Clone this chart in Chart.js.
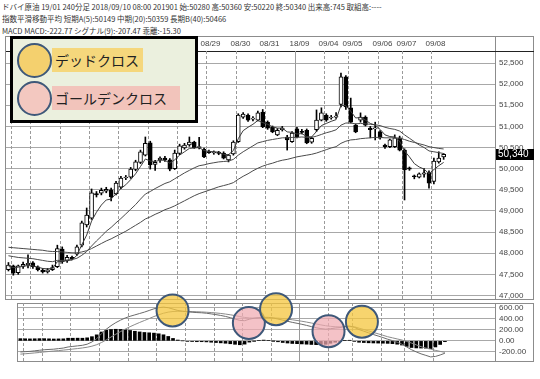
<!DOCTYPE html>
<html lang="ja">
<head>
<meta charset="UTF-8" />
<title>ドバイ原油 240分足</title>
<script src="https://cdn.jsdelivr.net/npm/chart.js"></script>
<style>
  body { margin: 0; width: 540px; height: 379px; background: #fff; position: relative; overflow: hidden; font-family: "Noto Sans CJK JP", sans-serif; }
  .hdr { position: absolute; left: 2px; font-size: 7.5px; line-height: 11px; color: #333; white-space: nowrap; }
  canvas { position: absolute; left: 0; }
  #legend { position: absolute; left: 10px; top: 36px; width: 182px; height: 81px; border: 3px solid #000; background: #ebf0de; z-index: 5; }
  .tag { position: absolute; left: 39px; height: 24px; font-size: 14px; line-height: 24px; color: #222; padding-left: 3px; box-sizing: border-box; white-space: nowrap; }
  .sign { position: absolute; left: 4px; width: 31px; height: 31px; border: 2px solid #3e5879; border-radius: 50%; }
</style>
</head>
<body>
<div class="hdr" style="top:1px">ドバイ原油 19/01 240分足 2018/09/10 08:00 201901 始:50280 高:50360 安:50220 終:50340 出来高:745 取組高:----</div>
<div class="hdr" style="top:13px">指数平滑移動平均 短期A(5):50149 中期(20):50359 長期B(40):50466</div>
<div class="hdr" style="top:25px">MACD MACD:-222.77 シグナル(9):-207.47 乖離:-15.30</div>

<canvas id="main" width="540" height="264" style="top:36px"></canvas>
<canvas id="macd" width="540" height="94" style="top:285px"></canvas>

<div id="legend">
  <div class="tag" style="top:9px; width:91px; background:#f5d77c;">デッドクロス</div>
  <div class="tag" style="top:47px; width:128px; background:#f2c4bb;">ゴールデンクロス</div>
  <div class="sign" style="top:4px; background:#f4d06e;"></div>
  <div class="sign" style="top:42px; background:#f3c8c0;"></div>
</div>

<script>
// 240-minute bars, one slot per bar
const opens  = [47610,47700,47540,47690,47730,47770,47680,47600,47560,47610,
                47680,48100,47820,47900,47980,48190,48670,48830,49410,49420,
                49470,49500,49400,49560,49780,49800,49980,50150,50320,50610,
                50100,50210,50250,50210,50000,50360,50490,50560,50630,50500,
                50460,50400,50370,50390,50370,50210,50350,50640,51220,51270,
                51170,51150,51340,51100,50980,50800,50920,50750,50640,50940,
                50880,50910,50630,50920,51150,51270,51200,51220,51520,52170,
                51440,51030,51150,51220,50960,50940,50870,50560,50520,50520,
                50730,50440,50020,49830,49800,49870,49900,49700,50160,50280];
const highs  = [47780,47720,47720,47790,47960,47800,47700,47640,47640,47720,
                48190,48150,47950,47930,48190,48760,49070,49520,49460,49540,
                49560,49540,49700,49820,49840,50030,50200,50440,50750,50650,
                50200,50280,50290,50240,50440,50580,50600,50750,50650,50740,
                50490,50440,50420,50410,50400,50340,50660,51300,51330,51300,
                51230,51360,51400,51130,51010,50950,51000,50790,50880,50980,
                50930,50940,50750,51390,51440,51300,51260,51330,52260,52200,
                51670,51060,51320,51250,51000,51100,50900,50580,50700,50800,
                50770,50470,50040,49850,49900,50000,49950,50250,50400,50360];
const lows   = [47580,47480,47500,47640,47650,47640,47580,47530,47530,47590,
                47660,47760,47780,47840,47950,48150,48620,48800,49330,49380,
                49430,49240,49380,49530,49740,49770,49950,50120,50300,49990,
                49960,50150,50170,49950,49980,50330,50460,50530,50480,50470,
                50260,50360,50340,50330,50230,50160,50320,50620,51190,51120,
                51130,51130,50970,50930,50850,50780,50890,50440,50620,50730,
                50820,50590,50600,50880,51130,51120,51170,51190,51460,51400,
                51080,50850,51100,51010,50730,50680,50700,50480,50500,50500,
                50420,49260,49960,49760,49780,49800,49540,49640,50130,50220];
const closes = [47720,47530,47700,47740,47760,47680,47610,47560,47610,47660,
                48110,47800,47900,47870,48150,48720,48900,49430,49380,49490,
                49510,49330,49660,49780,49800,49990,50160,50400,50600,50090,
                50150,50250,50210,49990,50370,50540,50560,50630,50500,50520,
                50280,50380,50390,50360,50250,50320,50630,51270,51290,51150,
                51200,51320,50990,50960,50870,50910,50960,50680,50840,50750,
                50860,50610,50720,51150,51320,51150,51220,51240,52170,51460,
                51100,50870,51220,51030,50920,50960,50730,50520,50680,50730,
                50440,49970,49990,49810,49880,49900,49660,50180,50250,50340];

// exponential moving averages as drawn on the chart
const maShort = [47700,47660,47670,47690,47710,47700,47670,47640,47630,47640,
                 47800,47800,47830,47840,47950,48200,48430,48760,48970,49140,
                 49260,49280,49410,49530,49620,49740,49880,50050,50230,50180,
                 50170,50200,50200,50130,50210,50320,50400,50480,50490,50500,
                 50430,50410,50400,50390,50340,50330,50430,50710,50900,50980,
                 51050,51140,51090,51050,50990,50960,50960,50870,50860,50820,
                 50830,50760,50750,50880,51020,51070,51120,51160,51500,51490,
                 51360,51200,51210,51150,51070,51030,50930,50800,50760,50750,
                 50650,50420,50280,50120,50040,49990,49880,49980,50070,50149];
const maMid   = [47940,47920,47900,47890,47880,47870,47850,47830,47810,47800,
                 47830,47830,47840,47850,47880,47950,48040,48170,48290,48400,
                 48520,48610,48720,48820,48930,49040,49150,49280,49400,49460,
                 49530,49590,49650,49690,49760,49830,49900,49960,50020,50070,
                 50090,50120,50140,50160,50170,50180,50220,50320,50400,50470,
                 50540,50610,50640,50670,50690,50710,50730,50730,50740,50740,
                 50750,50740,50740,50770,50810,50850,50880,50920,51030,51080,
                 51080,51060,51070,51060,51050,51040,51020,50980,50950,50930,
                 50890,50800,50720,50640,50560,50500,50420,50400,50380,50359];
const maLong  = [48140,48130,48120,48110,48100,48090,48080,48070,48050,48040,
                 48040,48030,48020,48010,48010,48030,48060,48110,48170,48230,
                 48290,48340,48400,48460,48520,48590,48660,48730,48810,48860,
                 48920,48970,49030,49070,49120,49180,49240,49300,49360,49410,
                 49450,49490,49530,49570,49600,49630,49670,49750,49820,49880,
                 49950,50010,50060,50100,50130,50170,50200,50220,50250,50280,
                 50300,50320,50340,50370,50410,50450,50490,50520,50600,50650,
                 50680,50690,50710,50720,50730,50740,50740,50730,50730,50730,
                 50720,50690,50650,50620,50590,50560,50520,50500,50480,50466];

// MACD panel
const macdLine = [-200,-195,-190,-180,-170,-160,-155,-150,-140,-130,
                  -110,-100,-90,-80,-60,-20,40,130,210,275,
                  330,375,415,445,470,495,520,550,580,600,
                  610,600,575,550,535,525,518,512,508,500,
                  488,475,460,442,420,395,370,365,392,410,
                  420,426,425,414,395,375,355,335,318,300,
                  280,258,238,222,212,220,232,240,262,268,
                  245,205,175,145,115,88,60,30,5,-25,
                  -60,-110,-160,-200,-235,-262,-290,-282,-255,-223];
const signalLine = [-240,-233,-226,-218,-210,-200,-192,-184,-176,-167,
                    -158,-148,-139,-128,-115,-96,-69,-30,18,70,
                    120,168,215,257,296,333,368,404,440,472,
                    500,520,531,535,535,533,530,527,523,518,
                    512,505,496,485,472,457,440,424,414,412,
                    410,412,415,415,411,404,394,382,369,355,
                    340,323,306,289,274,263,256,252,254,257,
                    255,230,205,180,153,128,102,75,55,35,
                    15,-10,-40,-72,-105,-130,-150,-172,-190,-207];
const histogram = [40,38,36,38,40,40,37,34,36,37,
                   48,48,49,48,55,76,109,160,192,205,
                   210,207,200,188,174,162,152,146,140,128,
                   110,80,44,15,0,-8,-12,-15,-15,-18,
                   -24,-30,-36,-43,-52,-62,-70,-59,-22,-2,
                   10,14,10,-1,-16,-29,-39,-47,-51,-55,
                   -60,-65,-68,-67,-62,-43,-24,-12,8,11,
                   -10,-25,-30,-35,-38,-40,-42,-45,-50,-60,
                   -75,-100,-120,-128,-130,-132,-140,-110,-65,-15];

// marked crosses (slot, MACD value)
const deadX = [31.9, 53.6, 71.6];
const deadY = [550, 573, 348];
const goldenX = [47.9, 64.6];
const goldenY = [325, 175];

// first bar of each day, and its label
const dayStarts = [1, 5, 11, 17, 23, 29, 35, 41, 47, 53, 59, 65, 70, 76, 81, 87];
const dayLabels = ['', '08/21', '08/22', '08/23', '08/24', '08/27', '08/28', '08/29',
                   '08/30', '08/31', '18/09', '09/04', '09/05', '09/06', '09/07', '09/08'];
const monthStart = 59;

const priceTicks = [47000, 47500, 48000, 48500, 49000, 49500, 50000, 50500, 51000, 51500, 52000, 52500];
const macdTicks = [-200, 0, 200, 400, 600];

const slots = 100;
const priceMin = 46917, priceMax = 52784;
const macdMin = -364, macdMax = 685;

const fontFamily = "'Liberation Sans', Arial, sans-serif";
const tickFont = { family: fontFamily, size: 8 };
const pts = arr => arr.map((v, i) => ({ x: i, y: v }));

const dayLines = {
  id: 'dayLines',
  beforeDatasetsDraw(chart, args, opts) {
    const { ctx, chartArea: a } = chart;
    const xs = chart.scales.x;
    ctx.save();
    ctx.strokeStyle = '#9a9a9a';
    ctx.lineWidth = 1;
    dayStarts.forEach((d, i) => {
      const px = Math.round(xs.getPixelForValue(d - 0.5)) + 0.5;
      ctx.setLineDash(d === monthStart ? [] : [3, 2]);
      ctx.beginPath();
      ctx.moveTo(px, a.top);
      ctx.lineTo(px, a.bottom);
      ctx.stroke();
      if (opts.labels) {
        ctx.fillStyle = '#444';
        ctx.font = '8px ' + fontFamily;
        ctx.textAlign = 'center';
        ctx.textBaseline = 'middle';
        ctx.fillText(dayLabels[i], px + 4, a.top / 2 + 0.5);
      }
    });
    ctx.restore();
  }
};

const frame = {
  id: 'frame',
  beforeDatasetsDraw(chart, args, opts) {
    const { ctx, chartArea: a } = chart;
    const right = chart.width - 6;
    const top = opts.top === undefined ? a.top : opts.top;
    ctx.save();
    ctx.lineWidth = 1;
    ctx.strokeStyle = '#8c8c8c';
    ctx.strokeRect(a.left - 0.5, top + 0.5, right - a.left, a.bottom - top);
    ctx.beginPath();
    ctx.moveTo(a.right + 0.5, top);
    ctx.lineTo(a.right + 0.5, a.bottom);
    ctx.stroke();
    if (opts.header) {
      ctx.strokeStyle = '#222';
      ctx.beginPath();
      ctx.moveTo(a.left, a.top + 0.5);
      ctx.lineTo(right, a.top + 0.5);
      ctx.stroke();
    }
    ctx.restore();
  }
};

const lastPrice = {
  id: 'lastPrice',
  afterDraw(chart) {
    const { ctx, chartArea: a } = chart;
    const last = closes[closes.length - 1];
    const y = Math.round(chart.scales.y.getPixelForValue(last));
    ctx.save();
    ctx.fillStyle = '#000';
    ctx.fillRect(a.right + 1, y - 5, 38, 11);
    ctx.fillStyle = '#fff';
    ctx.font = '10px ' + fontFamily;
    ctx.textBaseline = 'middle';
    ctx.fillText(last.toLocaleString('en-US'), a.right + 3, y + 0.5);
    ctx.restore();
  }
};

const wicks = closes.map((c, i) => ({ x: i, y: [lows[i], highs[i]] }));
const bodies = closes.map((c, i) => ({ x: i, y: [Math.min(opens[i], c), Math.max(opens[i], c)] }));
const bodyColors = closes.map((c, i) => (c >= opens[i] ? '#fff' : '#000'));

const maStyle = { type: 'line', borderWidth: 1, pointRadius: 0, tension: 0, order: 0 };

new Chart(document.getElementById('main'), {
  type: 'bar',
  data: {
    datasets: [
      { ...maStyle, label: '短期A(5)', data: pts(maShort), borderColor: '#3c3c3c' },
      { ...maStyle, label: '中期(20)', data: pts(maMid), borderColor: '#4a4a4a' },
      { ...maStyle, label: '長期B(40)', data: pts(maLong), borderColor: '#4a4a4a' },
      { label: 'body', data: bodies, backgroundColor: bodyColors, borderColor: '#000', borderWidth: 1,
        borderSkipped: false, barThickness: 4, minBarLength: 1, grouped: false, order: 1 },
      { label: 'wick', data: wicks, backgroundColor: '#000', barThickness: 1, grouped: false, order: 2 }
    ]
  },
  options: {
    responsive: false,
    animation: false,
    events: [],
    layout: { padding: { left: 6, right: 6, top: 15, bottom: 1 } },
    plugins: {
      legend: { display: false }, tooltip: { enabled: false },
      frame: { top: 0, header: true }, dayLines: { labels: true }
    },
    scales: {
      x: { type: 'linear', display: false, min: -0.5, max: slots - 0.5, offset: false },
      y: {
        position: 'right', min: priceMin, max: priceMax,
        afterBuildTicks: s => { s.ticks = priceTicks.map(v => ({ value: v })); },
        afterFit: s => { s.width = 39; s.paddingTop = 0; s.paddingBottom = 0; },
        grid: { color: '#a8a8a8', drawTicks: false },
        border: { display: false },
        ticks: { padding: 4, color: '#444', font: tickFont, callback: v => v.toLocaleString('en-US') }
      }
    }
  },
  plugins: [frame, dayLines, lastPrice]
});

const crossStyle = { type: 'line', showLine: false, pointRadius: 16, pointBorderWidth: 2,
                     pointBorderColor: '#3e5879', clip: false, order: 0 };

new Chart(document.getElementById('macd'), {
  type: 'bar',
  data: {
    datasets: [
      { ...crossStyle, label: 'デッドクロス', data: deadX.map((x, i) => ({ x, y: deadY[i] })),
        pointBackgroundColor: 'rgba(244,198,62,0.75)' },
      { ...crossStyle, label: 'ゴールデンクロス', data: goldenX.map((x, i) => ({ x, y: goldenY[i] })),
        pointBackgroundColor: 'rgba(240,170,178,0.72)' },
      { type: 'line', label: 'MACD', data: pts(macdLine), borderColor: '#6a6a6a', borderWidth: 1, pointRadius: 0, order: 1 },
      { type: 'line', label: 'シグナル', data: pts(signalLine), borderColor: '#8a8a8a', borderWidth: 1, pointRadius: 0, order: 1 },
      { label: '乖離', data: pts(histogram), backgroundColor: '#000', barThickness: 3, grouped: false, order: 2 }
    ]
  },
  options: {
    responsive: false,
    animation: false,
    events: [],
    layout: { padding: { left: 6, right: 6, top: 16, bottom: 8 } },
    plugins: { legend: { display: false }, tooltip: { enabled: false }, frame: {}, dayLines: { labels: false } },
    scales: {
      x: { type: 'linear', display: false, min: -0.5, max: slots - 0.5, offset: false },
      y: {
        position: 'right', min: macdMin, max: macdMax,
        afterBuildTicks: s => { s.ticks = macdTicks.map(v => ({ value: v })); },
        afterFit: s => { s.width = 39; s.paddingTop = 0; s.paddingBottom = 0; },
        grid: { color: '#a8a8a8', drawTicks: false },
        border: { display: false },
        ticks: { padding: 4, color: '#444', font: tickFont, callback: v => v.toFixed(2) }
      }
    }
  },
  plugins: [frame, dayLines]
});
</script>
</body>
</html>
